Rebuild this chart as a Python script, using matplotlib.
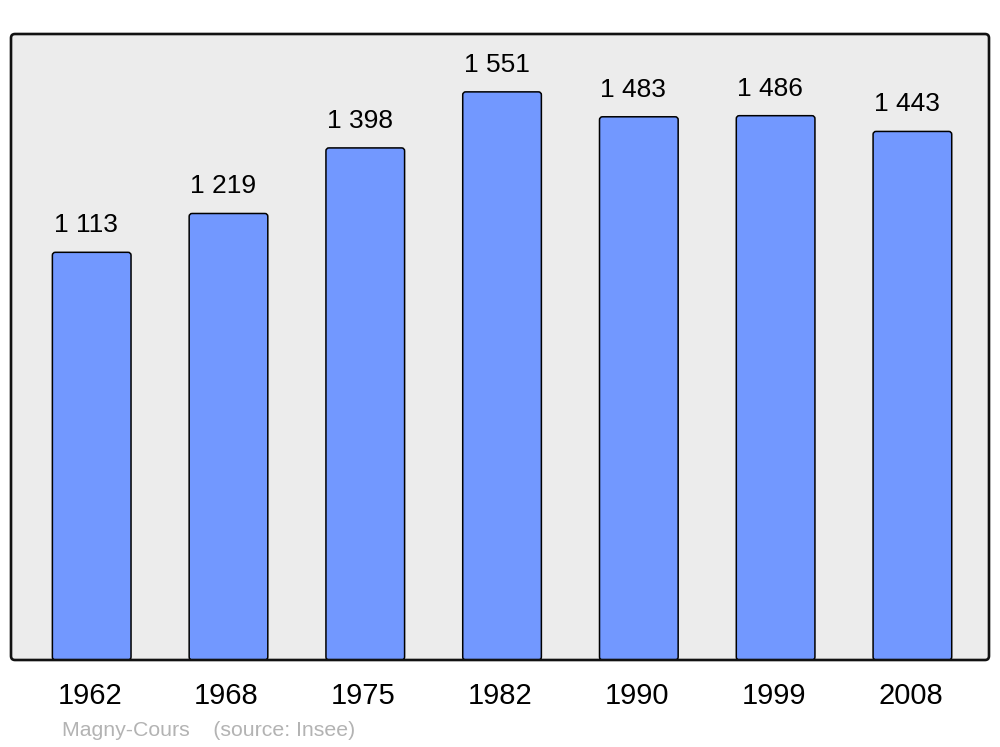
import matplotlib
matplotlib.use('Agg')
import matplotlib.pyplot as plt
import matplotlib.transforms as mtransforms
from matplotlib.patches import FancyBboxPatch

years = ['1962', '1968', '1975', '1982', '1990', '1999', '2008']
population = [1113, 1219, 1398, 1551, 1483, 1486, 1443]
labels = ['1 113', '1 219', '1 398', '1 551', '1 483', '1 486', '1 443']

plt.rcParams['font.family'] = ['Liberation Sans', 'DejaVu Sans']

fig = plt.figure(figsize=(10, 7.47), dpi=100)
ax = fig.add_axes([0.011, 87 / 747, 0.978, 626 / 747])
ax.set_facecolor('#ececec')
ax.set_xlim(-0.59, 6.56)
ax.set_ylim(0, 1709)

# bars with slightly rounded corners
x = range(len(years))
bars = ax.bar(x, population, width=0.575)
px_x = 978 / (6.56 + 0.59)
px_y = 626 / 1709
for b in bars:
    b.set_visible(False)
    p = FancyBboxPatch((b.get_x(), b.get_y()), b.get_width(), b.get_height(),
                       boxstyle='round,pad=0,rounding_size=%f' % (3 / px_x),
                       mutation_aspect=px_x / px_y,
                       facecolor='#7298ff', edgecolor='black', linewidth=1.1, zorder=2)
    ax.add_patch(p)

for i, v in enumerate(population):
    ax.text(i - 0.04, v + 15 / px_y, labels[i], ha='center', va='bottom', fontsize=19)

ax.set_xticks(list(x))
ax.set_xticklabels(years, fontsize=21)
ax.tick_params(axis='x', length=0, pad=16)
shift = mtransforms.ScaledTranslation(-0.02, 0, fig.dpi_scale_trans)
for lab in ax.get_xticklabels():
    lab.set_transform(lab.get_transform() + shift)
ax.set_yticks([])
for s in ax.spines.values():
    s.set_visible(False)

frame = FancyBboxPatch((0, 0), 1, 1, transform=ax.transAxes,
                       boxstyle='round,pad=0,rounding_size=%f' % (4 / 978),
                       mutation_aspect=978 / 626,
                       facecolor='none', edgecolor='#111111', linewidth=1.9,
                       clip_on=False, zorder=5)
ax.add_patch(frame)

fig.text(0.062, 1 - 730 / 747, 'Magny-Cours    (source: Insee)', color='#b3b3b3',
         fontsize=15.3, va='center', ha='left')

fig.savefig('out.png', dpi=100)
